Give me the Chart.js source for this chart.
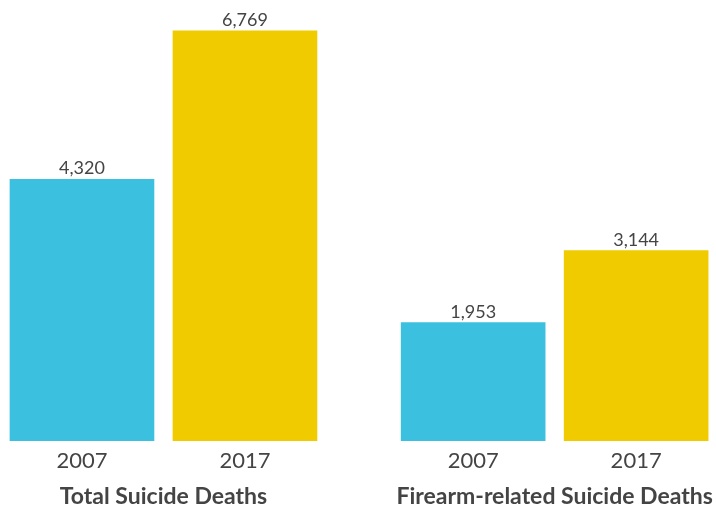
<!DOCTYPE html>
<html>
<head>
<meta charset="utf-8">
<script src="https://cdn.jsdelivr.net/npm/chart.js@4"></script>
<style>
  html, body { margin: 0; padding: 0; background: #ffffff; }
  #wrap { width: 716px; height: 506px; position: relative; }
</style>
</head>
<body>
<div id="wrap"><canvas id="c"></canvas></div>
<script>
// ---- Data ----
const groups = ['Total Suicide Deaths', 'Firearm-related Suicide Deaths'];
const years = ['2007', '2017'];
const values2007 = [4320, 1953];
const values2017 = [6769, 3144];

// ---- Layout helpers (positions in axis units) ----
const GROUP_STEP = 2.4;          // distance between groups (bar pitch = 1)
const seriesValues = [values2007, values2017];
const colors = ['#3bc0e0', '#f0cb00'];
const xPos = (g, y) => g * GROUP_STEP + y;

const yearTicks = [];
groups.forEach((g, gi) => years.forEach((yr, yi) => yearTicks.push({ value: xPos(gi, yi), label: yr })));
const groupTicks = groups.map((g, gi) => ({ value: xPos(gi, 0.5), label: g }));

const X_MIN = -0.503, X_MAX = 3.89;

const datasets = years.map((yr, yi) => ({
  label: yr,
  data: groups.map((g, gi) => ({ x: xPos(gi, yi), y: seriesValues[yi][gi] })),
  backgroundColor: colors[yi],
  borderWidth: 0,
  barThickness: 144,
  grouped: false,
  xAxisID: 'x'
}));

const valueLabels = {
  id: 'valueLabels',
  afterDatasetsDraw(chart) {
    const ctx = chart.ctx;
    ctx.save();
    ctx.font = '18px Lato';
    ctx.fillStyle = '#444444';
    ctx.textAlign = 'center';
    ctx.textBaseline = 'alphabetic';
    chart.data.datasets.forEach((ds, di) => {
      const meta = chart.getDatasetMeta(di);
      meta.data.forEach((el, i) => {
        ctx.fillText(ds.data[i].y.toLocaleString('en-US'), el.x, el.y - 5);
      });
    });
    ctx.restore();
  }
};

function fixAxis(h) {
  return (scale) => {
    scale.height = h;
    scale.paddingLeft = 0;
    scale.paddingRight = 0;
    scale.paddingTop = 0;
    scale.paddingBottom = 0;
  };
}

new Chart(document.getElementById('c'), {
  type: 'bar',
  data: { datasets },
  plugins: [valueLabels],
  options: {
    responsive: true,
    maintainAspectRatio: false,
    animation: false,
    layout: { padding: 0 },
    plugins: { legend: { display: false }, tooltip: { enabled: false } },
    scales: {
      x: {
        type: 'linear',
        position: 'bottom',
        offset: false,
        weight: 0,
        min: X_MIN, max: X_MAX,
        grid: { display: false, drawTicks: false, offset: false },
        border: { display: false },
        afterBuildTicks: (scale) => { scale.ticks = yearTicks.map(t => ({ value: t.value })); },
        afterFit: fixAxis(36),
        ticks: {
          autoSkip: false, maxRotation: 0, minRotation: 0, padding: 9,
          color: '#444444',
          font: { family: 'Lato', size: 22, lineHeight: 1 },
          callback: (v) => { const t = yearTicks.find(t => Math.abs(t.value - v) < 1e-6); return t ? t.label : ''; }
        }
      },
      x2: {
        type: 'linear',
        position: 'bottom',
        offset: false,
        weight: 1,
        min: X_MIN, max: X_MAX,
        grid: { display: false, drawTicks: false, offset: false },
        border: { display: false },
        afterBuildTicks: (scale) => { scale.ticks = groupTicks.map(t => ({ value: t.value })); },
        afterFit: fixAxis(29),
        ticks: {
          autoSkip: false, maxRotation: 0, minRotation: 0, padding: 8,
          color: '#444444',
          font: { family: 'Lato', size: 23, weight: 'bold', lineHeight: 1 },
          callback: (v) => { const t = groupTicks.find(t => Math.abs(t.value - v) < 1e-6); return t ? t.label : ''; }
        }
      },
      y: {
        display: false,
        min: 0, max: 7280
      }
    }
  }
});
</script>
</body>
</html>
